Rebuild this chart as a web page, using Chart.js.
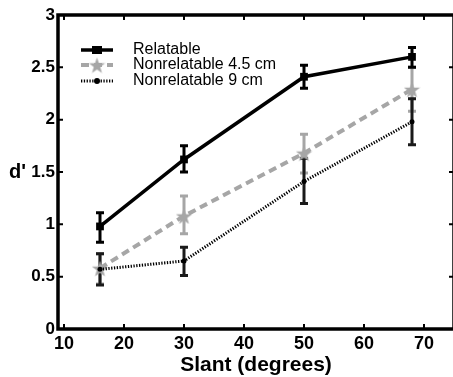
<!DOCTYPE html>
<html>
<head>
<meta charset="utf-8">
<script src="https://cdn.jsdelivr.net/npm/chart.js@4.4.0/dist/chart.umd.min.js"></script>
<style>
  html, body { margin: 0; padding: 0; background: #fff; overflow: hidden; }
  #wrap { width: 453px; height: 377px; overflow: hidden; }
</style>
</head>
<body>
<div id="wrap"><canvas id="chart" width="462" height="377"></canvas></div>
<script>
// data
const slant = [16, 30, 50, 68];

const relatable = [0.98, 1.62, 2.41, 2.60];
const relatableLow = [0.83, 1.50, 2.30, 2.50];
const relatableHigh = [1.11, 1.75, 2.52, 2.69];

const nonrel45 = [0.58, 1.08, 1.68, 2.29];
const nonrel45Low = [0.43, 0.91, 1.49, 2.08];
const nonrel45High = [0.72, 1.27, 1.86, 2.50];

const nonrel9 = [0.57, 0.65, 1.41, 1.98];
const nonrel9Low = [0.42, 0.51, 1.20, 1.76];
const nonrel9High = [0.72, 0.78, 1.63, 2.20];

const seriesNames = ['Relatable', 'Nonrelatable 4.5 cm', 'Nonrelatable 9 cm'];
const xTicks = [10, 20, 30, 40, 50, 60, 70];
const yTicks = [0, 0.5, 1, 1.5, 2, 2.5, 3];
const yTickLabels = ['0', '0.5', '1', '1.5', '2', '2.5', '3'];

const FONT = '"Liberation Sans", Arial, Helvetica, sans-serif';
const GRAY = '#a6a6a6';

function makeStar(size, color) {
  const c = document.createElement('canvas');
  c.width = size;
  c.height = size;
  const g = c.getContext('2d');
  g.fillStyle = color;
  g.beginPath();
  for (let i = 0; i < 10; i++) {
    const r = i % 2 ? size * 0.2 : size / 2;
    const a = -Math.PI / 2 + (i * Math.PI) / 5;
    g.lineTo(size / 2 + r * Math.cos(a), size / 2 + 1 + r * Math.sin(a));
  }
  g.closePath();
  g.fill();
  return c;
}
const star = makeStar(17, GRAY);

const toPoints = (ys) => slant.map((x, i) => ({ x, y: ys[i] }));

const errorBars = [
  { low: nonrel45Low, high: nonrel45High, color: GRAY },
  { low: nonrel9Low, high: nonrel9High, color: '#1a1a1a' },
  { low: relatableLow, high: relatableHigh, color: '#000' },
];

const frame = {
  id: 'frame',
  beforeDatasetsDraw(chart) {
    const { ctx, chartArea: a, scales } = chart;
    const x = scales.x;
    const y = scales.y;
    ctx.save();
    ctx.strokeStyle = '#000';
    ctx.lineWidth = 3.5;
    ctx.strokeRect(a.left, a.top, a.right - a.left, a.bottom - a.top);
    ctx.lineWidth = 2;
    ctx.beginPath();
    xTicks.forEach((v) => {
      const px = x.getPixelForValue(v);
      ctx.moveTo(px, a.bottom);
      ctx.lineTo(px, a.bottom - 5);
      ctx.moveTo(px, a.top);
      ctx.lineTo(px, a.top + 5);
    });
    yTicks.forEach((v) => {
      const py = y.getPixelForValue(v);
      ctx.moveTo(a.left, py);
      ctx.lineTo(a.left + 5, py);
      ctx.moveTo(a.right, py);
      ctx.lineTo(a.right - 5, py);
    });
    ctx.stroke();

    // error bars
    ctx.lineWidth = 3;
    errorBars.forEach((e) => {
      ctx.strokeStyle = e.color;
      ctx.beginPath();
      slant.forEach((v, i) => {
        const px = x.getPixelForValue(v);
        const lo = y.getPixelForValue(e.low[i]);
        const hi = y.getPixelForValue(e.high[i]);
        ctx.moveTo(px, lo);
        ctx.lineTo(px, hi);
        ctx.moveTo(px - 4, lo);
        ctx.lineTo(px + 4, lo);
        ctx.moveTo(px - 4, hi);
        ctx.lineTo(px + 4, hi);
      });
      ctx.stroke();
    });
    ctx.restore();
  },
  afterDraw(chart) {
    const { ctx, scales } = chart;
    ctx.save();
    ctx.fillStyle = '#000';
    ctx.font = 'bold 20px ' + FONT;
    ctx.textBaseline = 'middle';
    ctx.fillText("d'", 9, scales.y.getPixelForValue(1.5));

    // legend
    const rows = [50, 65, 81];
    ctx.font = '16px ' + FONT;
    chart.data.datasets.forEach((ds, i) => {
      const yy = rows[i];
      ctx.strokeStyle = ds.borderColor;
      ctx.lineWidth = ds.borderWidth;
      ctx.setLineDash(ds.borderDash || []);
      ctx.beginPath();
      ctx.moveTo(81, yy);
      ctx.lineTo(113, yy);
      ctx.stroke();
      ctx.setLineDash([]);
      if (i === 0) {
        ctx.fillStyle = '#000';
        ctx.fillRect(92, yy - 4, 10, 8);
      } else if (i === 1) {
        ctx.drawImage(star, 97 - 8.5, yy - 8.5);
      } else {
        ctx.fillStyle = '#000';
        ctx.beginPath();
        ctx.arc(97, yy, 3, 0, Math.PI * 2);
        ctx.fill();
      }
      ctx.fillStyle = '#000';
      ctx.fillText(seriesNames[i], 133, yy);
    });
    ctx.restore();
  },
};

new Chart(document.getElementById('chart'), {
  type: 'line',
  data: {
    datasets: [
      {
        label: seriesNames[0],
        data: toPoints(relatable),
        borderColor: '#000',
        backgroundColor: '#000',
        borderWidth: 3.5,
        pointStyle: 'rect',
        pointRadius: 5.5,
        pointBorderWidth: 0,
        order: 1,
      },
      {
        label: seriesNames[1],
        data: toPoints(nonrel45),
        borderColor: GRAY,
        backgroundColor: GRAY,
        borderWidth: 4,
        borderDash: [8, 5],
        pointStyle: star,
        order: 3,
      },
      {
        label: seriesNames[2],
        data: toPoints(nonrel9),
        borderColor: '#000',
        backgroundColor: '#000',
        borderWidth: 3,
        borderDash: [1.3, 1.5],
        pointStyle: 'circle',
        pointRadius: 2.5,
        pointBorderWidth: 0,
        order: 2,
      },
    ],
  },
  options: {
    responsive: false,
    animation: false,
    events: [],
    layout: { padding: { top: 15, right: 7, left: 0, bottom: 0 } },
    plugins: { legend: { display: false }, tooltip: { enabled: false } },
    scales: {
      x: {
        type: 'linear',
        min: 9,
        max: 75,
        afterFit: (s) => { s.height = 48; },
        afterBuildTicks: (s) => { s.ticks = xTicks.map((v) => ({ value: v })); },
        grid: { display: false, drawTicks: false },
        border: { display: false },
        ticks: {
          padding: 4,
          color: '#000',
          maxRotation: 0,
          autoSkip: false,
          font: { family: FONT, size: 18, weight: 'bold' },
          callback: (v) => String(v),
        },
        title: {
          display: true,
          text: 'Slant (degrees)',
          color: '#000',
          padding: 0,
          font: { family: FONT, size: 21, weight: 'bold', lineHeight: 1.15 },
        },
      },
      y: {
        min: 0,
        max: 3,
        afterFit: (s) => { s.width = 58; },
        afterBuildTicks: (s) => { s.ticks = yTicks.map((v) => ({ value: v })); },
        grid: { display: false, drawTicks: false },
        border: { display: false },
        ticks: {
          padding: 3,
          color: '#000',
          autoSkip: false,
          font: { family: FONT, size: 17, weight: 'bold' },
          callback: (v, i) => yTickLabels[i],
        },
      },
    },
  },
  plugins: [frame],
});
</script>
</body>
</html>
